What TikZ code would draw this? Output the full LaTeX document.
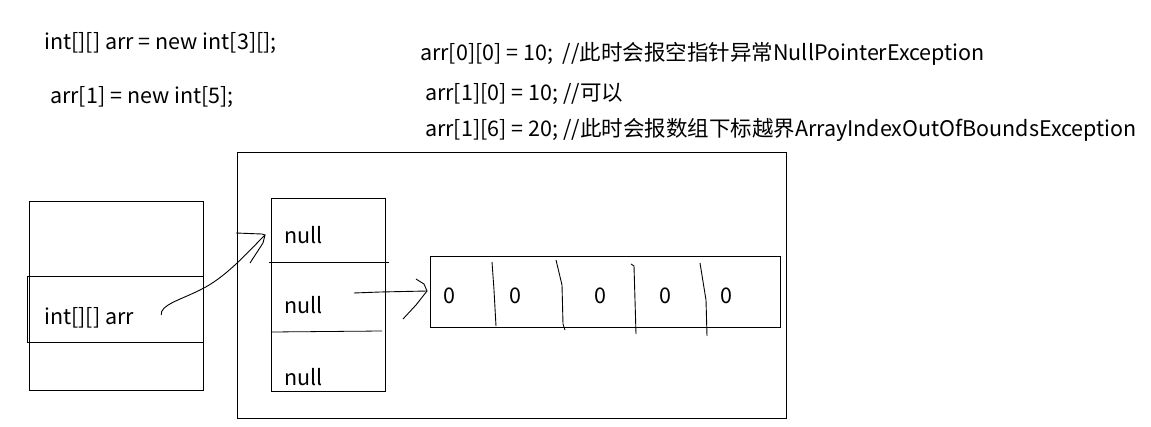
\documentclass[tikz,border=0pt]{standalone}
\usepackage{fontspec}
\setmainfont{Noto Sans CJK SC}
\usepackage{tikz}
\usetikzlibrary{
    calc            % 坐标计算
}

\begin{document}
\begin{tikzpicture}[
    x=1pt, y=-1pt,
    txt/.style={anchor=west, inner sep=0pt, font=\fontsize{21.5}{24}\selectfont},
    hand/.style={line width=0.9pt}
]
    \useasboundingbox (0,0) rectangle (1151,426);

    % 上方代码文字
    \node[txt] (decl) at (44,43) {int[][] arr = new int[3][];};
    \node[txt] (init) at (50,97) {arr[1] = new int[5];};
    \node[txt] (lineA) at (420,54) {arr[0][0] = 10;\ \ //此时会报空指针异常NullPointerException};
    \node[txt] (lineB) at (425,94) {arr[1][0] = 10; //可以};
    \node[txt] (lineC) at (425,130) {arr[1][6] = 20; //此时会报数组下标越界ArrayIndexOutOfBoundsException};

    % 左侧栈
    \draw[thick] (29,201) rectangle (203,390);
    \draw[thick] (27,276) rectangle (203,342);
    \node[txt] (var) at (44,318) {int[][] arr};

    % 右侧堆
    \draw[thick] (237,152) rectangle (786,418);
    \draw[thick] (271,198) rectangle (385,391);
    \draw[thick] (269,262) -- (389,262);
    \draw[thick] (271,332) -- (382,331);
    \node[txt] (null0) at (284,235) {null};
    \node[txt] (null1) at (284,305) {null};
    \node[txt] (null2) at (284,377) {null};

    % 一维数组
    \draw[thick] (430,256) rectangle (780,327);
    \node[txt] (e0) at (443,296) {0};
    \node[txt] (e1) at (509,296) {0};
    \node[txt] (e2) at (594,296) {0};
    \node[txt] (e3) at (659,296) {0};
    \node[txt] (e4) at (720,296) {0};
    \draw[hand] (492,262) -- (494,290) -- (496,326);
    \draw[hand] (556,260) -- (562,285) -- (563,324) -- (565,330);
    \draw[hand] (631,264) -- (634,266) -- (636,334);
    \draw[hand] (700,263) -- (706,300) -- (707,336);

    % 手绘箭头
    \coordinate (tipA) at (265,235);
    \coordinate (tipB) at (427,291);
    \draw[hand] ($(var.east)+(27,-3)$) .. controls (160,305) and (180,300) .. (200,290)
        .. controls (225,278) and (245,255) .. (tipA);
    \draw[hand] (236,233) -- (262,234) -- (tipA) -- (263,243) -- (250,263);
    \draw[hand] ($(null1.east)+(31,-12)$) -- (380,292) -- (tipB);
    \draw[hand] (416,279) -- (424,284) -- (tipB) -- (416,305) -- (403,319);
\end{tikzpicture}
\end{document}
